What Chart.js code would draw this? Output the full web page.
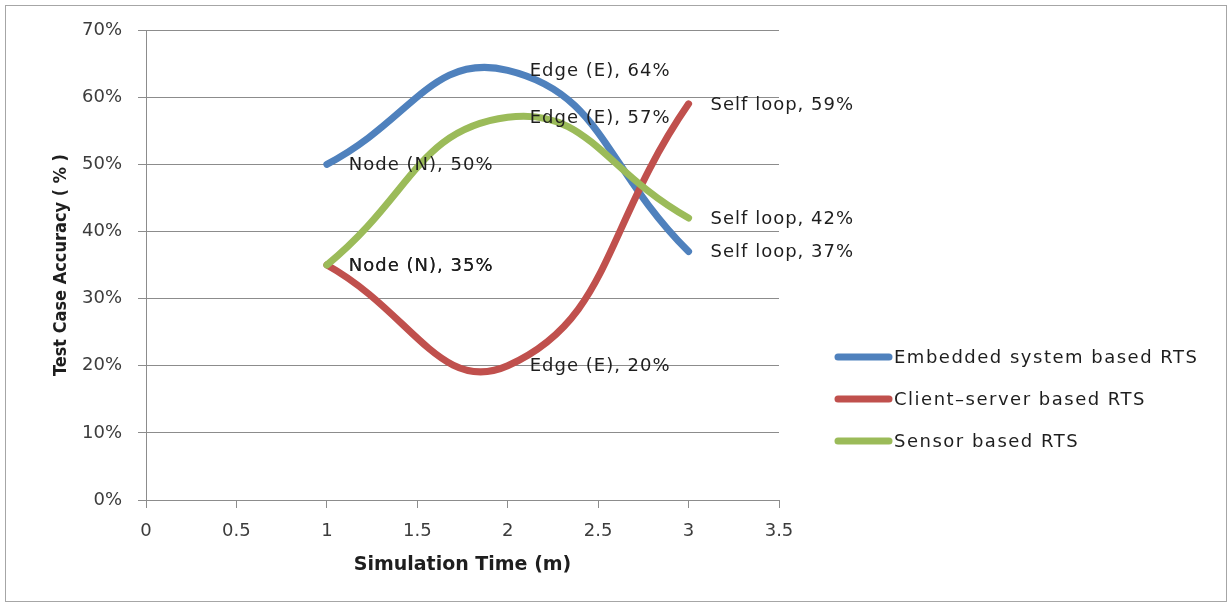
<!DOCTYPE html>
<html>
<head>
<meta charset="utf-8">
<script src="https://cdn.jsdelivr.net/npm/chart.js@4.4.0/dist/chart.umd.min.js"></script>
<style>
  html, body { margin: 0; padding: 0; background: #fff; }
  #wrap { position: relative; width: 1230px; height: 603px; }
  #frame { position: absolute; left: 5px; top: 5px; width: 1222px; height: 597px; border: 1px solid #a6a6a6; box-sizing: border-box; }
  canvas { position: absolute; left: 0; top: 0; }
</style>
</head>
<body>
<div id="wrap"><div id="frame"></div><canvas id="grafico" width="1230" height="603"></canvas></div>
<script>
// Dados do gráfico
const tempos = [1, 2, 3];
const rotulosPontos = ['Node (N)', 'Edge (E)', 'Self loop'];
const embedded = [50, 64, 37];
const clientServer = [35, 20, 59];
const sensor = [35, 57, 42];
const nomesSeries = ['Embedded system based RTS', 'Client\u2013server based RTS', 'Sensor based RTS'];
const coresSeries = ['#4f81bd', '#c0504d', '#9bbb59'];
const ticksX = [0, 0.5, 1, 1.5, 2, 2.5, 3, 3.5];
const ticksY = [0, 10, 20, 30, 40, 50, 60, 70];

const corGrade = '#8c8c8c';
const fonteBase = 'DejaVu Sans';

function serie(valores, i) {
    return {
        label: nomesSeries[i],
        data: tempos.map((t, k) => ({ x: t, y: valores[k] })),
        borderColor: coresSeries[i],
        backgroundColor: coresSeries[i],
        borderWidth: 7,
        borderCapStyle: 'round',
        borderJoinStyle: 'round',
        tension: 0.47,
        pointRadius: 0,
        fill: false,
        order: 3 - i
    };
}

// rótulos dos pontos (ex.: "Edge (E), 64%")
const pluginRotulos = {
    id: 'rotulos',
    afterDatasetsDraw(chart) {
        const ctx = chart.ctx;
        ctx.save();
        ctx.font = '18px "' + fonteBase + '"';
        ctx.fillStyle = '#1e1e1e';
        ctx.textBaseline = 'middle';
        ctx.textAlign = 'left';
        ctx.letterSpacing = '1px';
        chart.data.datasets.forEach((ds, i) => {
            const meta = chart.getDatasetMeta(i);
            meta.data.forEach((pt, k) => {
                ctx.fillText(rotulosPontos[k] + ', ' + ds.data[k].y + '%', pt.x + 22, pt.y + 1);
            });
        });
        ctx.restore();
    }
};

// legenda desenhada à direita
const pluginLegenda = {
    id: 'legendaLateral',
    afterDraw(chart) {
        const ctx = chart.ctx;
        const x0 = chart.chartArea.right + 59;
        const y0 = 357;
        ctx.save();
        ctx.font = '18px "' + fonteBase + '"';
        ctx.textBaseline = 'middle';
        ctx.letterSpacing = '1.5px';
        chart.data.datasets.forEach((ds, i) => {
            const y = y0 + i * 42;
            ctx.strokeStyle = ds.borderColor;
            ctx.lineWidth = 7;
            ctx.lineCap = 'round';
            ctx.beginPath();
            ctx.moveTo(x0, y);
            ctx.lineTo(x0 + 51, y);
            ctx.stroke();
            ctx.fillStyle = '#1e1e1e';
            ctx.fillText(ds.label, x0 + 56, y + 1);
        });
        ctx.restore();
    }
};

const ctxGrafico = document.getElementById('grafico').getContext('2d');
const grafico = new Chart(ctxGrafico, {
    type: 'line',
    data: {
        datasets: [serie(embedded, 0), serie(clientServer, 1), serie(sensor, 2)]
    },
    options: {
        responsive: false,
        animation: false,
        layout: { padding: { left: 0, top: 30, right: 451, bottom: 0 } },
        plugins: {
            legend: { display: false },
            tooltip: { enabled: false }
        },
        scales: {
            x: {
                type: 'linear',
                min: 0,
                max: 3.5,
                afterBuildTicks: s => { s.ticks = ticksX.map(v => ({ value: v })); },
                afterFit: s => { s.height = 103; },
                grid: { drawOnChartArea: false, drawTicks: true, tickLength: 8, color: corGrade },
                border: { display: true, color: corGrade },
                ticks: {
                    padding: 13,
                    color: '#3c3c3c',
                    font: { family: fonteBase, size: 18 },
                    callback: v => String(v)
                },
                title: {
                    display: true,
                    text: 'Simulation Time (m)',
                    color: '#1e1e1e',
                    font: { family: fonteBase, size: 19, weight: 'bold' },
                    padding: { top: 0, bottom: 27 }
                }
            },
            y: {
                min: 0,
                max: 70,
                afterBuildTicks: s => { s.ticks = ticksY.map(v => ({ value: v })); },
                afterFit: s => { s.width = 146; },
                grid: { drawOnChartArea: true, drawTicks: true, tickLength: 8, color: corGrade },
                border: { display: true, color: corGrade },
                ticks: {
                    padding: 16,
                    color: '#3c3c3c',
                    font: { family: fonteBase, size: 18 },
                    callback: v => v + '%'
                },
                title: {
                    display: true,
                    text: 'Test Case Accuracy ( % )',
                    color: '#1e1e1e',
                    font: { family: 'DejaVu Sans Condensed', size: 18, weight: 'bold' },
                    padding: { top: 51, bottom: 0 }
                }
            }
        }
    },
    plugins: [pluginRotulos, pluginLegenda]
});
</script>
</body>
</html>
